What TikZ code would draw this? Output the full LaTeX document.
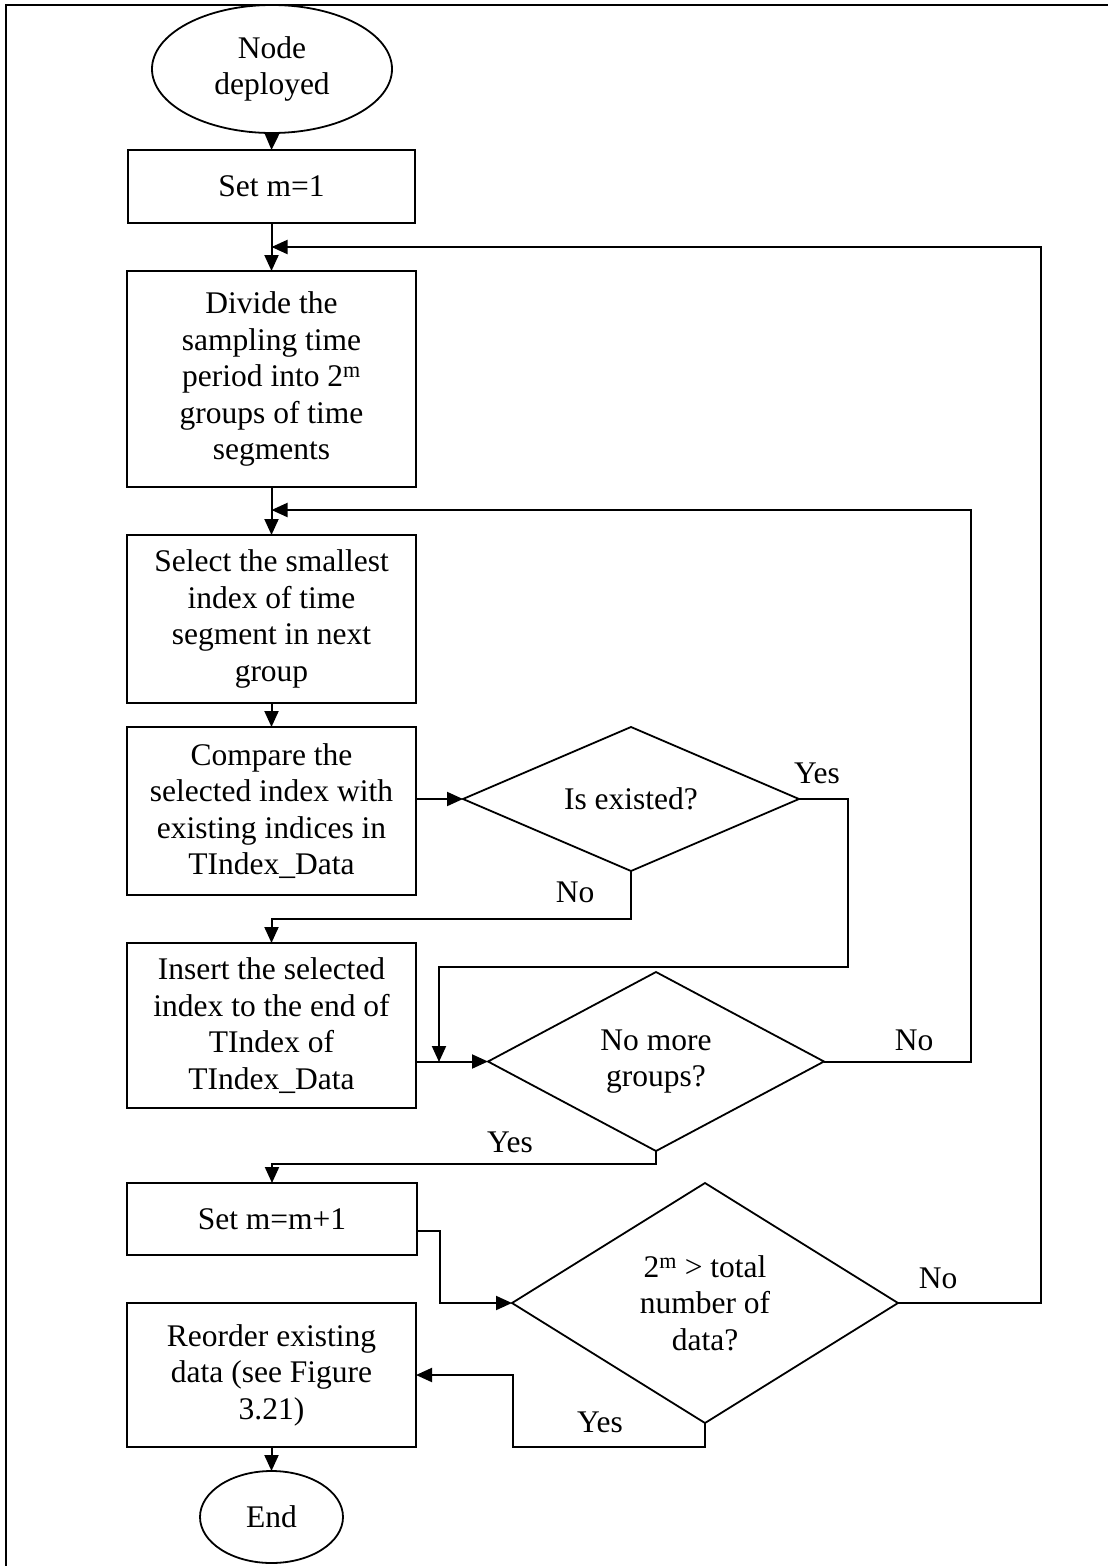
\documentclass[tikz,border=0pt]{standalone}
\usepackage{fontspec}
\setmainfont{Liberation Serif}
\usetikzlibrary{shapes.geometric,arrows.meta}
\begin{document}
\begin{tikzpicture}[x=1pt,y=-1pt,
  every node/.style={font=\fontsize{31.5}{36.5}\selectfont, align=center, outer sep=0pt},
  box/.style={draw, line width=2pt, inner sep=0pt, minimum width=289pt},
  term/.style={draw, ellipse, line width=1.8pt, inner sep=0pt},
  decision/.style={draw, diamond, line width=1.8pt, inner sep=0pt},
  arr/.style={line width=2pt, -{Triangle[length=16pt,width=14pt]}},
  lbl/.style={inner sep=0pt}]

% page frame
\useasboundingbox (0,0) rectangle (1108,1566);
\clip (0,0) rectangle (1108,1566);
\draw[line width=2.2pt] (6,5) rectangle (1130,1590);

% process steps
\node[term, minimum width=240pt, minimum height=128pt] (start) at (272,69) {Node\\deployed};
\node[box, minimum width=287pt, minimum height=73pt] (set1) at (271.5,186.5) {Set m=1};
\node[box, minimum height=216pt] (divide) at (271.5,379) {Divide the\\sampling time\\period into 2\textsuperscript{m}\\groups of time\\segments};
\node[box, minimum height=168pt] (select) at (271.5,619) {Select the smallest\\index of time\\segment in next\\group};
\node[box, minimum height=168pt] (compare) at (271.5,811) {Compare the\\selected index with\\existing indices in\\TIndex\_Data};
\node[decision, aspect=2.33, minimum width=336pt, minimum height=144pt] (isex) at (631,799) {Is existed?};
\node[box, minimum height=165pt] (insert) at (271.5,1025.5) {Insert the selected\\index to the end of\\TIndex of\\TIndex\_Data};
\node[decision, aspect=1.9, minimum width=336pt, minimum height=179pt] (nomore) at (656,1061.5) {No more\\groups?};
\node[box, minimum width=290pt, minimum height=72pt] (setm) at (272,1219) {Set m=m+1};
\node[decision, aspect=1.6, minimum width=386pt, minimum height=240pt] (cond) at (705,1303) {2\textsuperscript{m} > total\\number of\\data?};
\node[box, minimum height=144pt] (reorder) at (271.5,1375) {Reorder existing\\data (see Figure\\3.21)};
\node[term, minimum width=143pt, minimum height=92pt] (end) at (271.5,1517) {End};

% branch labels
\node[lbl] (y1) at (817,773) {Yes};
\node[lbl] (n1) at (575,892) {No};
\node[lbl] (n2) at (914,1040) {No};
\node[lbl] (y2) at (510,1142) {Yes};
\node[lbl] (n3) at (938,1278) {No};
\node[lbl] (y3) at (600,1422) {Yes};

% join points of the loops
\coordinate (fb1) at (271.5,247);
\coordinate (fb2) at (271.5,510);
\coordinate (mrg) at (439,1062);

% connectors
\draw[arr] (start.south) -- (set1.north);
\draw[arr] (set1.south) -- (divide.north);
\draw[arr] (divide.south) -- (select.north);
\draw[arr] (select.south) -- (compare.north);
\draw[arr] (compare.east |- isex.west) -- (isex.west);
\draw[arr] (isex.south) -- ++(0,48) -| (insert.north);
\draw[arr] (isex.east) -- ++(49,0) |- (439,967) -- (mrg);
\draw[arr] (insert.east |- nomore.west) -- (nomore.west);
\draw[arr] (nomore.east) -- ++(147,0) |- (fb2);
\draw[arr] (nomore.south) -- ++(0,13) -| (setm.north);
\draw[arr] ([yshift=-12pt]setm.east) -- ++(23,0) |- (cond.west);
\draw[arr] (cond.east) -- ++(143,0) |- (fb1);
\draw[arr] (cond.south) -- ++(0,24) -| (513,1375) -- (reorder.east);
\draw[arr] (reorder.south) -- (end.north);
\end{tikzpicture}
\end{document}
